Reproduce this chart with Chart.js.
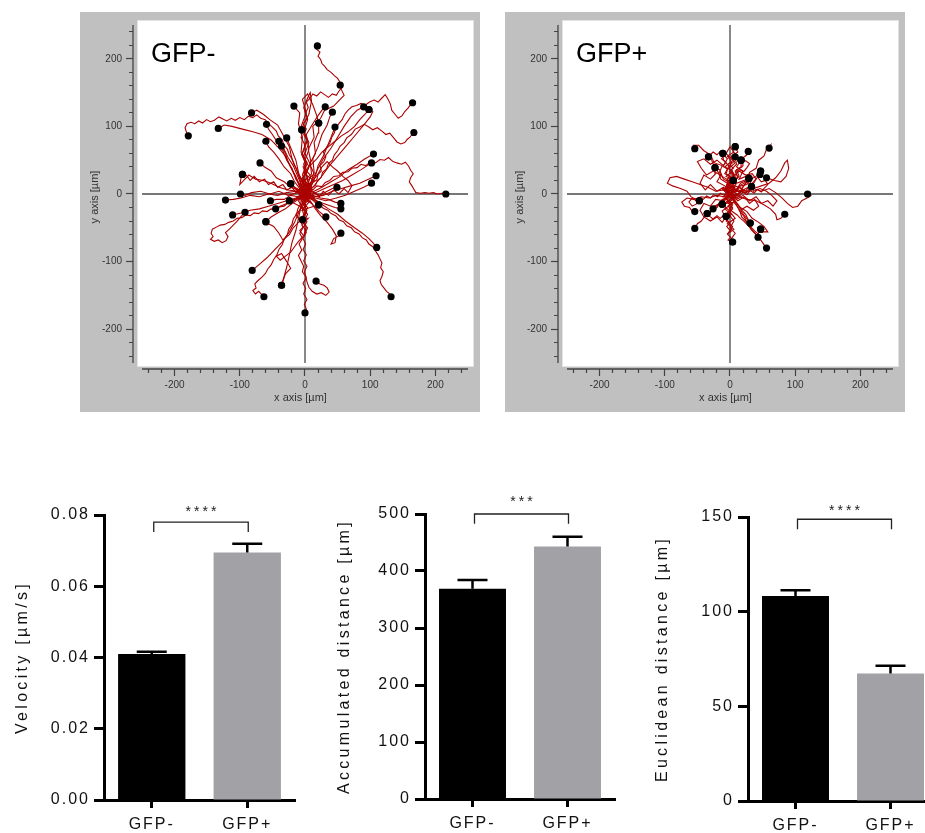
<!DOCTYPE html>
<html>
<head>
<meta charset="utf-8">
<script src="https://cdn.jsdelivr.net/npm/chart.js@4.4.1/dist/chart.umd.min.js"></script>
<style>
  html, body { margin: 0; padding: 0; background: #fff; overflow: hidden; width: 925px; height: 833px; }
  .panel { position: absolute; background: #c0c0c0; }
  .box { position: absolute; }
  canvas { display: block; }
</style>
</head>
<body>
<div class="panel" style="left:80px;top:12px;width:400px;height:400px"><canvas id="negPlot" width="400" height="400"></canvas></div>
<div class="panel" style="left:505px;top:12px;width:400px;height:400px"><canvas id="posPlot" width="400" height="400"></canvas></div>
<div class="box" style="left:0px;top:490px"><canvas id="velocity" width="310" height="343"></canvas></div>
<div class="box" style="left:310px;top:490px"><canvas id="accumulated" width="310" height="343"></canvas></div>
<div class="box" style="left:620px;top:490px"><canvas id="euclidean" width="318" height="343"></canvas></div>

<script>
const family = "'Liberation Sans', Arial, sans-serif";

// spider plot axes (µm)
const axisSpan = [-250, 250];
const spiderTicks = [-240, -220, -200, -180, -160, -140, -120, -100, -80, -60, -40, -20, 0,
                     20, 40, 60, 80, 100, 120, 140, 160, 180, 200, 220, 240];

// GFP- cell tracks, each one starts at the origin, last point = end position
const negTracks = [
  [[0,0],[-3,9],[2,16],[-4,24],[1,31],[-2,40],[3,47],[-3,55],[1,63],[-1,72],[3,80],[-2,88],[2,96],[-3,104],[4,112],[1,120],[5,128],[2,136],[8,142],[12,148],[18,145],[24,151],[30,147],[36,143],[42,148],[48,146],[52,152],[57,158],[54,165],[50,171],[45,175],[40,180],[34,184],[30,189],[26,193],[24,199],[20,204],[23,210],[18,214],[19,219]],
  [[0,0],[6,14],[2,30],[9,48],[5,66],[14,84],[12,100],[24,112],[30,124],[44,130],[52,138],[60,146],[56,154],[54,161]],
  [[0,0],[4,6],[9,10],[12,17],[18,21],[20,29],[25,34],[23,42],[29,48],[32,55],[28,62],[33,69],[38,75],[41,84],[45,90],[47,98],[52,104],[57,110],[61,118],[66,124],[72,129],[79,131],[86,134],[92,131],[99,136],[106,139],[112,136],[118,142],[123,147],[127,141],[131,133],[133,124],[138,118],[143,112],[149,116],[153,122],[158,127],[161,131],[165,135]],
  [[0,0],[6,4],[11,9],[16,13],[19,20],[25,25],[27,32],[33,37],[36,45],[42,50],[45,58],[50,64],[54,71],[60,76],[64,83],[71,88],[77,96],[84,99],[91,103],[98,99],[104,95],[111,98],[118,93],[124,88],[130,90],[136,83],[141,77],[147,74],[153,76],[157,81],[161,84],[164,88],[167,91]],
  [[0,0],[6,5],[13,7],[18,12],[26,11],[31,17],[38,20],[44,26],[52,27],[58,32],[66,33],[72,38],[80,39],[86,44],[93,42],[100,47],[108,46],[115,51],[122,50],[128,54],[135,48],[141,46],[148,44],[154,47],[159,41],[162,35],[166,30],[162,24],[160,18],[164,12],[167,7],[170,2],[177,1],[184,2],[190,1],[197,2],[203,0],[210,1],[216,0]],
  [[0,0],[-4,7],[-7,15],[-5,22],[-10,29],[-13,37],[-17,44],[-20,52],[-24,58],[-27,66],[-32,72],[-35,80],[-41,86],[-44,93],[-50,99],[-56,104],[-61,110],[-68,112],[-74,117],[-80,113],[-87,115],[-93,110],[-100,113],[-107,109],[-113,112],[-120,108],[-126,111],[-132,114],[-139,109],[-145,107],[-151,110],[-157,105],[-163,108],[-169,104],[-175,106],[-181,104],[-184,98],[-182,92],[-179,86]],
  [[0,0],[-8,12],[-14,26],[-22,40],[-30,56],[-40,68],[-52,80],[-66,88],[-80,92],[-96,96],[-112,100],[-124,102],[-133,97]],
  [[0,0],[-6,16],[-12,34],[-20,52],[-24,70],[-34,88],[-42,102],[-54,110],[-64,118],[-74,124],[-82,120]],
  [[0,0],[-3,20],[2,42],[-6,62],[-4,84],[-10,104],[-8,120],[-17,130]],
  [[0,0],[4,22],[-2,44],[6,66],[2,88],[12,104],[20,116],[26,124],[31,129]],
  [[0,0],[8,14],[14,32],[12,52],[20,70],[26,88],[34,102],[38,114],[42,121]],
  [[0,0],[10,18],[18,34],[28,52],[40,68],[50,84],[60,100],[70,114],[80,124],[90,129]],
  [[0,0],[12,10],[24,24],[36,40],[50,56],[64,72],[78,88],[90,102],[100,114],[104,122],[98,125]],
  [[0,0],[-6,12],[-14,22],[-20,38],[-28,50],[-34,64],[-42,76],[-50,88],[-56,96],[-59,103]],
  [[0,0],[5,16],[10,30],[8,46],[16,60],[14,76],[20,90],[21,105]],
  [[0,0],[9,12],[16,26],[20,42],[28,56],[34,70],[40,84],[46,99]],
  [[0,0],[3,14],[-4,28],[2,44],[-5,58],[0,72],[-6,84],[-5,95]],
  [[0,0],[-8,8],[-16,18],[-22,30],[-32,40],[-40,52],[-48,62],[-56,70],[-60,78]],
  [[0,0],[-6,14],[-12,28],[-18,42],[-26,54],[-32,66],[-40,78]],
  [[0,0],[-8,10],[-14,24],[-20,36],[-26,48],[-30,60],[-36,71]],
  [[0,0],[-4,16],[-10,32],[-14,50],[-20,64],[-28,83]],
  [[0,0],[-10,6],[-22,10],[-32,18],[-44,24],[-52,34],[-62,40],[-69,46]],
  [[0,0],[14,4],[26,10],[40,18],[54,26],[66,36],[80,44],[92,52],[105,59]],
  [[0,0],[16,2],[30,8],[44,14],[58,20],[72,28],[86,36],[102,46]],
  [[0,0],[-12,4],[-26,6],[-40,10],[-52,16],[-64,20],[-76,22],[-86,28],[-94,20],[-100,14],[-98,24],[-96,29]],
  [[0,0],[14,-4],[28,-2],[42,4],[56,8],[70,12],[84,16],[98,22],[109,27]],
  [[0,0],[16,-6],[32,-10],[48,-6],[62,-2],[76,4],[90,10],[102,16]],
  [[0,0],[10,4],[22,-2],[34,4],[42,8],[49,10]],
  [[0,0],[-14,4],[-28,2],[-42,-2],[-56,0],[-70,-4],[-84,-2],[-98,-6],[-110,-8],[-122,-9]],
  [[0,0],[-10,-4],[-22,-2],[-32,-8],[-44,-8],[-53,-10]],
  [[0,0],[-8,-2],[-16,-8],[-24,-10]],
  [[0,0],[-14,-6],[-28,-10],[-42,-14],[-56,-18],[-70,-22],[-84,-24],[-98,-28],[-111,-31]],
  [[0,0],[-6,-4],[-13,-7],[-19,-12],[-26,-13],[-32,-18],[-39,-19],[-45,-23],[-52,-22],[-58,-26],[-65,-25],[-71,-29],[-78,-28],[-84,-32],[-91,-31],[-97,-35],[-104,-36],[-110,-40],[-117,-42],[-123,-45],[-130,-46],[-136,-49],[-142,-52],[-144,-58],[-141,-63],[-145,-67],[-139,-70],[-133,-68],[-127,-72],[-121,-69],[-118,-63],[-122,-57],[-116,-52],[-110,-46],[-104,-40],[-98,-33],[-92,-27]],
  [[0,0],[-8,-6],[-18,-10],[-28,-14],[-38,-18],[-45,-22]],
  [[0,0],[-10,-8],[-20,-14],[-30,-22],[-42,-28],[-52,-34],[-60,-41]],
  [[0,0],[6,-6],[14,-8],[21,-16]],
  [[0,0],[12,-2],[24,-6],[36,-8],[46,-12],[55,-14]],
  [[0,0],[10,-8],[22,-12],[34,-16],[46,-20],[55,-22]],
  [[0,0],[6,-10],[14,-18],[22,-26],[32,-34]],
  [[0,0],[8,-10],[16,-22],[24,-32],[34,-42],[42,-52],[48,-62],[46,-72],[40,-74],[44,-66],[52,-62],[55,-58]],
  [[0,0],[12,-6],[24,-14],[36,-22],[50,-30],[62,-40],[76,-50],[88,-58],[98,-66],[104,-72],[110,-79]],
  [[0,0],[5,-5],[11,-8],[16,-13],[23,-16],[28,-21],[35,-24],[40,-29],[47,-32],[52,-38],[59,-41],[64,-47],[71,-50],[76,-56],[83,-59],[88,-65],[94,-68],[98,-74],[104,-78],[108,-84],[112,-90],[115,-96],[118,-102],[116,-109],[120,-115],[118,-122],[115,-128],[117,-134],[121,-139],[125,-144],[129,-147],[132,-152]],
  [[0,0],[-4,-14],[-10,-28],[-16,-42],[-24,-56],[-34,-70],[-46,-82],[-58,-94],[-70,-104],[-81,-113]],
  [[0,0],[-3,-8],[1,-16],[-4,-24],[-1,-33],[-6,-41],[-3,-50],[-8,-58],[-4,-66],[-9,-74],[-5,-83],[-10,-91],[-6,-99],[-2,-107],[-4,-115],[1,-122],[3,-130],[6,-138],[11,-144],[18,-148],[25,-146],[32,-150],[37,-145],[34,-139],[29,-135],[23,-133],[17,-129]],
  [[0,0],[-6,-18],[-10,-36],[-14,-54],[-20,-72],[-24,-90],[-28,-108],[-32,-122],[-36,-135]],
  [[0,0],[-5,-7],[-7,-15],[-11,-22],[-13,-30],[-18,-37],[-20,-45],[-25,-52],[-27,-60],[-32,-67],[-35,-75],[-40,-82],[-43,-90],[-48,-97],[-52,-105],[-57,-111],[-61,-118],[-66,-123],[-72,-128],[-77,-133],[-75,-139],[-80,-143],[-76,-148],[-71,-144],[-67,-148],[-63,-152]],
  [[0,0],[2,-8],[-2,-16],[3,-24],[-1,-33],[3,-41],[-2,-49],[2,-57],[-3,-66],[1,-74],[-3,-82],[2,-90],[-2,-99],[3,-107],[-1,-115],[2,-124],[-3,-132],[1,-140],[-2,-148],[3,-156],[-1,-163],[2,-170],[0,-176]],
  [[0,0],[-12,2],[-26,-2],[-40,4],[-54,0],[-68,4],[-82,2],[-92,-2],[-99,0]],
  [[0,0],[-8,6],[-16,10],[-22,15]],
  // wandering tracks that end on shared end positions
  [[0,0],[6,10],[-4,18],[8,28],[-2,38],[4,24],[-6,12],[2,-6],[-6,-18],[4,-30],[-3,-44],[5,-36],[-4,-38]],
  [[0,0],[-8,6],[6,14],[-6,22],[4,8],[-10,-4],[6,-12],[-4,-24],[8,-20],[21,-16]],
  [[0,0],[10,-4],[4,12],[14,20],[-2,30],[8,44],[0,60],[6,76],[-2,92],[4,110],[-2,128],[4,142],[8,150],[10,138],[6,118],[-2,104],[-5,95]],
  [[0,0],[-6,-10],[4,-20],[-4,-34],[2,-48],[-2,-62],[4,-50],[-6,-40],[2,-28],[-8,-18],[-24,-10]],
  [[0,0],[12,6],[-6,10],[14,-6],[-10,-8],[8,16],[-14,4],[10,-14],[-22,15]],
  [[0,0],[-4,20],[6,40],[-4,60],[4,80],[-6,100],[2,120],[-4,140],[4,148],[12,132],[18,116],[21,105]],
  [[0,0],[8,-6],[14,2],[22,-4],[28,4],[36,-2],[44,6],[52,0],[60,8],[66,2],[72,12],[66,20],[58,26],[50,34],[42,40],[34,48],[26,40],[20,30],[14,22],[8,14],[2,6],[-8,2],[-22,15]],
  [[0,0],[-6,6],[-14,2],[-20,10],[-28,6],[-34,14],[-42,10],[-48,18],[-56,14],[-62,22],[-70,18],[-78,26],[-84,20],[-90,28],[-96,29]],
  [[0,0],[4,-10],[-4,-18],[2,-28],[-6,-36],[0,-46],[-8,-54],[-2,-62],[-10,-70],[-16,-78],[-22,-86],[-30,-92],[-38,-98],[-44,-92],[-36,-88],[-28,-100],[-22,-110],[-30,-118],[-36,-135]],
  [[0,0],[10,10],[4,20],[14,30],[8,42],[18,52],[26,62],[36,70],[46,78],[56,86],[66,92],[76,100],[84,110],[92,118],[98,125]],
  [[0,0],[-10,-10],[-4,-20],[-14,-30],[-8,-40],[-18,-50],[-24,-60],[-34,-68],[-40,-58],[-48,-48],[-56,-44],[-60,-41]]
];

// GFP+ cell tracks
const posTracks = [
  [[0,0],[-6,8],[2,16],[-10,22],[-16,32],[-12,42],[-24,46],[-30,58],[-40,64],[-48,72],[-56,72],[-54,67]],
  [[0,0],[4,10],[-4,18],[6,28],[-2,38],[8,46],[2,56],[12,62],[8,70]],
  [[0,0],[8,8],[4,18],[14,26],[10,36],[20,42],[18,52],[26,58],[28,63]],
  [[0,0],[10,6],[16,16],[26,20],[30,32],[40,38],[44,50],[52,56],[56,66],[62,72],[60,68]],
  [[0,0],[-6,10],[-2,20],[-12,26],[-16,36],[-24,40],[-28,50],[-33,55]],
  [[0,0],[-4,12],[4,22],[-6,30],[-2,42],[-10,50],[-11,60]],
  [[0,0],[6,8],[-2,18],[8,26],[2,36],[10,44],[8,55]],
  [[0,0],[8,6],[2,16],[12,24],[8,34],[18,40],[17,50]],
  [[0,0],[-8,6],[-4,16],[-14,22],[-18,32],[-23,39]],
  [[0,0],[10,4],[16,12],[26,14],[32,22],[40,26],[47,34]],
  [[0,0],[12,-2],[20,6],[28,10],[36,18],[46,29]],
  [[0,0],[12,4],[24,2],[36,8],[48,12],[60,16],[70,24],[78,34],[84,46],[88,50],[90,38],[86,26],[78,18],[68,20],[56,24]],
  [[0,0],[8,4],[14,12],[22,16],[29,23]],
  [[0,0],[10,-2],[18,6],[26,4],[33,11]],
  [[0,0],[-4,8],[4,12],[5,20]],
  [[0,0],[12,6],[24,2],[36,8],[48,4],[60,8],[70,2],[80,-6],[88,-14],[96,-20],[104,-18],[110,-10],[118,-6],[124,-2],[119,0]],
  [[0,0],[-10,6],[-22,4],[-34,10],[-46,14],[-58,18],[-70,22],[-82,26],[-92,24],[-96,16],[-88,12],[-76,8],[-66,4],[-60,-4],[-52,-8],[-47,-10]],
  [[0,0],[-10,-4],[-20,-2],[-32,-6],[-44,-4],[-56,-8],[-66,-6],[-74,-12],[-70,-18],[-62,-20],[-58,-26],[-54,-26]],
  [[0,0],[-6,-8],[-14,-12],[-20,-20],[-28,-24],[-35,-29]],
  [[0,0],[-6,-6],[-12,-8],[-18,-16],[-26,-22]],
  [[0,0],[-6,-4],[-8,-10],[-12,-15]],
  [[0,0],[4,-8],[-2,-14],[4,-22],[-4,-28],[-6,-33]],
  [[0,0],[-8,-6],[-16,-14],[-24,-18],[-30,-28],[-38,-32],[-44,-40],[-50,-44],[-54,-51]],
  [[0,0],[6,-8],[12,-16],[18,-24],[24,-30],[28,-38],[31,-43]],
  [[0,0],[8,-10],[16,-20],[26,-26],[34,-36],[44,-42],[52,-48],[58,-56],[50,-56],[47,-52]],
  [[0,0],[6,-12],[14,-22],[18,-34],[26,-42],[32,-52],[38,-58],[43,-64]],
  [[0,0],[-4,-10],[4,-20],[-2,-30],[6,-40],[0,-50],[8,-58],[2,-66],[4,-71]],
  [[0,0],[8,-12],[14,-24],[22,-34],[28,-46],[36,-56],[44,-64],[50,-72],[56,-80]],
  [[0,0],[14,-4],[26,-8],[40,-10],[52,-16],[62,-22],[70,-30],[72,-38],[78,-36],[84,-30]],
  // wandering tracks that end on shared end positions
  [[0,0],[6,8],[-4,14],[8,20],[-6,26],[4,34],[-8,40],[2,48],[-4,56],[6,62],[0,70],[-6,60],[4,50],[-2,38],[6,30],[5,20]],
  [[0,0],[-6,-8],[4,-14],[-8,-22],[2,-30],[-6,-40],[4,-48],[-2,-58],[6,-52],[-4,-44],[8,-36],[-2,-24],[-12,-15]],
  [[0,0],[10,4],[-8,6],[12,-6],[-10,-4],[6,10],[-12,8],[8,-12],[-6,-14],[14,2],[29,23]],
  [[0,0],[-10,10],[-20,4],[-30,14],[-38,6],[-46,16],[-40,28],[-30,22],[-22,30],[-23,39]],
  [[0,0],[12,-10],[22,-4],[30,-14],[38,-8],[44,-18],[36,-24],[26,-18],[16,-24],[31,-43]],
  [[0,0],[14,10],[24,4],[32,16],[24,26],[14,22],[20,34],[10,40],[17,50]],
  [[0,0],[4,6],[-3,10],[2,16],[-5,20],[-1,27],[-8,30],[-4,37],[-11,41],[-6,47],[-13,52],[-9,58],[-15,63],[-20,58],[-26,62],[-31,57],[-33,55]],
  [[0,0],[-5,3],[-9,-2],[-15,1],[-19,-4],[-25,-1],[-30,-6],[-36,-3],[-41,-8],[-46,-5],[-52,-10],[-58,-6],[-63,-12],[-58,-18],[-52,-15],[-47,-10]],
  [[0,0],[5,-4],[9,1],[15,-3],[20,3],[26,-1],[31,5],[37,1],[42,7],[48,3],[53,9],[58,14],[54,20],[48,18],[43,24],[47,34]],
  [[0,0],[3,-6],[-2,-11],[4,-16],[-1,-22],[5,-27],[11,-31],[16,-36],[22,-41],[27,-46],[33,-50],[38,-55],[43,-59],[47,-52]],
  [[0,0],[-6,-4],[-3,-10],[-9,-14],[-6,-21],[-12,-25],[-9,-31],[-15,-36],[-20,-32],[-26,-37],[-31,-33],[-35,-29]],
  [[0,0],[6,4],[3,10],[9,14],[6,21],[12,25],[9,32],[15,36],[21,33],[26,39],[30,45],[24,49],[17,50]],
  [[0,0],[-4,5],[2,9],[-3,14],[3,18],[-2,23],[4,28],[-1,33],[5,38],[0,43],[6,48],[2,54],[8,59],[4,64],[8,70]],
  [[0,0],[4,-5],[-2,-9],[3,-14],[-3,-18],[2,-23],[-4,-28],[1,-33],[-5,-38],[0,-43],[-5,-48],[0,-54],[-4,-59],[1,-64],[-3,-68],[4,-71]],
  [[0,0],[-8,12],[-20,18],[-14,28],[-26,34],[-36,28],[-44,38],[-50,48],[-40,52],[-30,44],[-20,50],[-10,42],[-4,52],[-11,60]],
  [[0,0],[10,-8],[20,-2],[30,-10],[40,-4],[48,-14],[58,-10],[66,-18],[72,-10],[64,-2],[56,4],[46,8],[36,4],[33,11]],
  [[0,0],[-10,-10],[-22,-8],[-30,-18],[-40,-14],[-46,-24],[-40,-34],[-30,-40],[-20,-34],[-12,-42],[-6,-33]],
  [[0,0],[8,12],[18,8],[26,18],[34,12],[40,22],[34,30],[24,28],[14,34],[6,26],[10,16],[29,23]]
];

// bar charts
const barCategories = ['GFP-', 'GFP+'];
const barColors = ['#000000', '#a2a2a6'];
const velocityMean = [0.041, 0.0695];
const velocityErr = [0.0006, 0.0024];
const accumulatedMean = [369, 443];
const accumulatedErr = [15, 17];
const euclideanMean = [108.3, 67.4];
const euclideanErr = [3, 4];
const sigLabels = ['****', '***', '****'];
const bracketTop = [0.078, 500, 148.8];
const bracketDrop = [0.0752, 483, 143.5];
const starLevel = [0.0808, 521, 153];

// white plotting field, offset axis lines and the panel name
const spiderFrame = {
  id: 'spiderFrame',
  beforeDraw(chart) {
    const a = chart.chartArea, c = chart.ctx;
    c.save();
    c.fillStyle = '#ffffff';
    c.fillRect(a.left + 4, a.top - 5, a.right - a.left + 2, a.bottom - a.top + 3);
    c.strokeStyle = '#e2e2e2';
    c.lineWidth = 1;
    c.strokeRect(a.left + 4.5, a.top - 4.5, a.right - a.left + 1, a.bottom - a.top + 2);
    c.restore();
  },
  afterDraw(chart, args, opts) {
    const a = chart.chartArea, c = chart.ctx;
    const xs = chart.scales.x, ys = chart.scales.y;
    c.save();
    c.strokeStyle = '#444';
    c.lineWidth = 1.3;
    c.beginPath();
    c.moveTo(a.left, ys.getPixelForValue(axisSpan[1]));
    c.lineTo(a.left, ys.getPixelForValue(axisSpan[0]));
    c.moveTo(xs.getPixelForValue(axisSpan[0]), a.bottom);
    c.lineTo(xs.getPixelForValue(axisSpan[1]), a.bottom);
    c.stroke();
    c.fillStyle = '#000';
    c.font = '27px ' + family;
    c.textBaseline = 'alphabetic';
    c.fillText(opts.label, a.left + 18, a.top + 37);
    c.restore();
  }
};

function drawTracks(id, label, tracks) {
  const datasets = [
    { data: [{x: axisSpan[0], y: 0}, {x: axisSpan[1], y: 0}], showLine: true, borderColor: '#4a4a4a', borderWidth: 1.3, pointRadius: 0, order: 3 },
    { data: [{x: 0, y: axisSpan[0]}, {x: 0, y: axisSpan[1]}], showLine: true, borderColor: '#4a4a4a', borderWidth: 1.3, pointRadius: 0, order: 3 }
  ];
  tracks.forEach(t => {
    datasets.push({
      data: t.map(p => ({x: p[0], y: p[1]})),
      showLine: true, borderColor: 'rgb(172,0,0)', borderWidth: 1.1,
      pointRadius: 0, tension: 0, order: 2
    });
  });
  datasets.push({
    data: tracks.map(t => ({x: t[t.length - 1][0], y: t[t.length - 1][1]})),
    backgroundColor: '#000', borderColor: '#000', borderWidth: 0, pointRadius: 3.6, order: 1
  });

  const minorX = c => (c.tick && c.tick.value % 100 === 0) ? [] : [4, 20];
  const minorY = c => (c.tick && c.tick.value % 100 === 0) ? [] : [0, 3, 4, 20];

  new Chart(document.getElementById(id), {
    type: 'scatter',
    data: { datasets },
    options: {
      responsive: false,
      animation: false,
      layout: { padding: { top: 13, right: 12, left: 0, bottom: 0 } },
      plugins: { legend: { display: false }, tooltip: { enabled: false }, spiderFrame: { label } },
      scales: {
        x: {
          type: 'linear', min: -263.8, max: 250, bounds: 'data',
          afterBuildTicks: s => { s.ticks = spiderTicks.map(v => ({ value: v })); },
          afterFit: s => { s.height = 43; },
          border: { display: false },
          grid: { drawOnChartArea: false, tickLength: 7, tickWidth: 1.2, tickColor: '#444', tickBorderDash: minorX },
          ticks: { autoSkip: false, maxRotation: 0, padding: 3, color: '#333', font: { family, size: 10 },
                   callback: v => (v % 100 === 0 ? v : '') },
          title: { display: true, text: 'x axis [µm]', color: '#333', font: { family, size: 11 }, padding: { top: 0, bottom: 7 } }
        },
        y: {
          type: 'linear', min: -258.9, max: 250, bounds: 'data',
          afterBuildTicks: s => { s.ticks = spiderTicks.map(v => ({ value: v })); },
          afterFit: s => { s.width = 53; },
          border: { display: false },
          grid: { drawOnChartArea: false, tickLength: 7, tickWidth: 1.2, tickColor: '#444', tickBorderDash: minorY },
          ticks: { autoSkip: false, padding: 4, color: '#333', font: { family, size: 10 },
                   callback: v => (v % 100 === 0 ? v : '') },
          title: { display: true, text: 'y axis [µm]', color: '#333', font: { family, size: 11 }, padding: { top: 8, bottom: 0 } }
        }
      }
    },
    plugins: [spiderFrame]
  });
}

// wide letter spacing like the original graphs
const spacedText = {
  id: 'spacedText',
  afterLayout(chart) {
    const s = chart.scales.y;
    if (s.__spaced) return;
    const orig = s.drawTitle;
    s.drawTitle = function () {
      const prev = this.ctx.letterSpacing;
      this.ctx.letterSpacing = '3.3px';
      orig.apply(this, arguments);
      this.ctx.letterSpacing = prev;
    };
    s.__spaced = true;
  },
  beforeDraw(chart) {
    chart.ctx.letterSpacing = '2px';
  }
};

// error caps and significance bracket
const barExtras = {
  id: 'barExtras',
  afterDatasetsDraw(chart, args, opts) {
    const c = chart.ctx, xs = chart.scales.x, ys = chart.scales.y;
    const meta = chart.getDatasetMeta(0);
    c.save();
    c.strokeStyle = '#000';
    c.lineWidth = 2.5;
    meta.data.forEach((bar, i) => {
      const yMean = ys.getPixelForValue(opts.means[i]);
      const yTop = ys.getPixelForValue(opts.means[i] + opts.errs[i]);
      c.beginPath();
      c.moveTo(bar.x, yMean);
      c.lineTo(bar.x, yTop);
      c.moveTo(bar.x - 15, yTop);
      c.lineTo(bar.x + 15, yTop);
      c.stroke();
    });
    const x1 = xs.getPixelForValue(0), x2 = xs.getPixelForValue(1);
    const yb = ys.getPixelForValue(opts.top), yd = ys.getPixelForValue(opts.drop);
    c.strokeStyle = '#222';
    c.lineWidth = 1.3;
    c.beginPath();
    c.moveTo(x1 + 2, yd);
    c.lineTo(x1 + 2, yb);
    c.lineTo(x2 + 1, yb);
    c.lineTo(x2 + 1, yd);
    c.stroke();
    c.fillStyle = '#222';
    c.font = '14px ' + family;
    c.letterSpacing = '3px';
    c.textAlign = 'center';
    c.textBaseline = 'middle';
    c.fillText(opts.sig, (x1 + x2) / 2 + 3, ys.getPixelForValue(opts.star));
    c.restore();
  }
};

function drawBars(id, k, means, errs, yMax, yStep, digits, title, box) {
  new Chart(document.getElementById(id), {
    type: 'bar',
    data: {
      labels: barCategories,
      datasets: [{ data: means, backgroundColor: barColors, borderWidth: 0, barPercentage: 0.705, categoryPercentage: 1 }]
    },
    options: {
      responsive: false,
      animation: false,
      layout: { padding: { top: box.padTop, right: box.padRight, left: 0, bottom: 0 } },
      plugins: {
        legend: { display: false }, tooltip: { enabled: false },
        barExtras: { means, errs, sig: sigLabels[k], top: bracketTop[k], drop: bracketDrop[k], star: starLevel[k] }
      },
      scales: {
        x: {
          offset: true,
          afterFit: s => { s.height = box.xHeight; },
          grid: { offset: false, drawOnChartArea: false, tickLength: 8, tickWidth: 3, tickColor: '#000' },
          border: { color: '#000', width: 3 },
          ticks: { color: '#111', padding: 7, font: { family, size: 16 } }
        },
        y: {
          min: 0, max: yMax,
          afterFit: s => { s.width = box.axisWidth; },
          grid: { drawOnChartArea: false, tickLength: 10, tickWidth: 3, tickColor: '#000' },
          border: { color: '#000', width: 3 },
          ticks: { stepSize: yStep, color: '#111', padding: 4, font: { family, size: 16 },
                   callback: v => v.toFixed(digits) },
          title: { display: true, text: title, color: '#111', font: { family, size: 16 },
                   padding: { top: box.titlePad, bottom: 0 } }
        }
      }
    },
    plugins: [barExtras, spacedText]
  });
}

drawTracks('negPlot', 'GFP-', negTracks);
drawTracks('posPlot', 'GFP+', posTracks);
drawBars('velocity', 0, velocityMean, velocityErr, 0.08, 0.02, 2, 'Velocity [µm/s]',
         { axisWidth: 104, padTop: 25, padRight: 15, xHeight: 33, titlePad: 13 });
drawBars('accumulated', 1, accumulatedMean, accumulatedErr, 500, 100, 0, 'Accumulated distance [µm]',
         { axisWidth: 115, padTop: 24, padRight: 5, xHeight: 34, titlePad: 25 });
drawBars('euclidean', 2, euclideanMean, euclideanErr, 150, 50, 0, 'Euclidean distance [µm]',
         { axisWidth: 128, padTop: 27, padRight: 0, xHeight: 32, titlePad: 33 });
</script>
</body>
</html>
